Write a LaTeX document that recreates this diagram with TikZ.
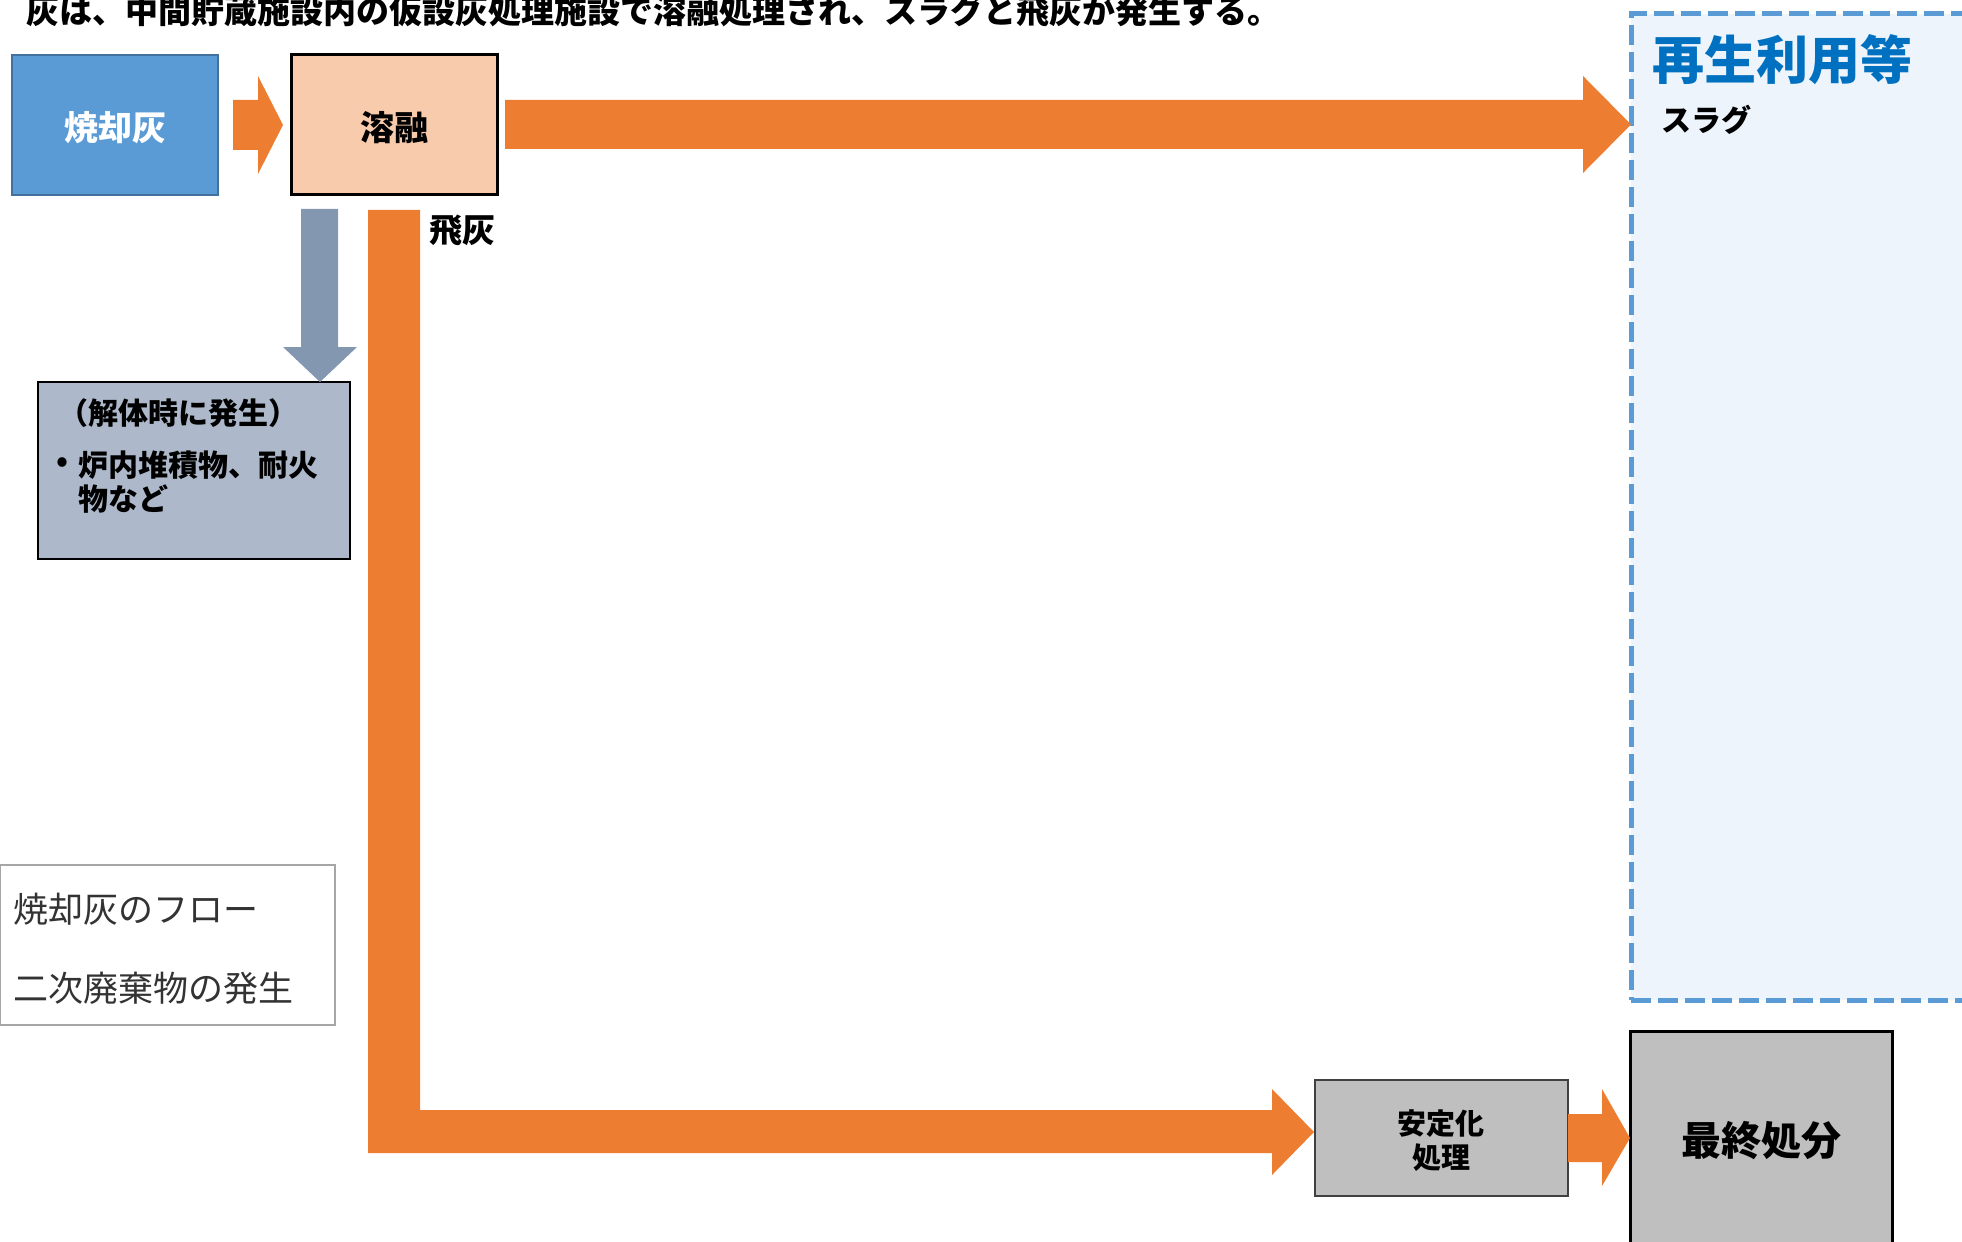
\documentclass[tikz,border=0pt]{standalone}
\usepackage{fontspec}
\setmainfont{Noto Sans CJK JP}
\definecolor{aorange}{HTML}{ED7D31}
\definecolor{ashfill}{HTML}{5B9BD5}
\definecolor{ashdraw}{HTML}{41719C}
\definecolor{meltfill}{HTML}{F8CBAD}
\definecolor{agray}{HTML}{8497B0}
\definecolor{dismfill}{HTML}{ADB9CA}
\definecolor{gboxfill}{HTML}{BFBFBF}
\definecolor{reusefill}{HTML}{EDF4FB}
\definecolor{dashblue}{HTML}{5B9BD5}
\definecolor{reusetext}{HTML}{0070C0}
\definecolor{legtext}{HTML}{333333}
\definecolor{legdraw}{HTML}{A6A6A6}
\begin{document}
\begin{tikzpicture}[x=0.5pt,y=-0.5pt,
  every node/.style={inner sep=0pt, outer sep=0pt},
  blockarrow/.style={fill=aorange, draw=none},
  grayarrow/.style={fill=agray, draw=none},
  boldtext/.style={font=\bfseries\fontsize{#1}{#1}\selectfont},
]
\useasboundingbox (0,0) rectangle (1962,1241);

% title
\node[anchor=west, boldtext=16.5pt] (title) at (26,11)
  {灰は、中間貯蔵施設内の仮設灰処理施設で溶融処理され、スラグと飛灰が発生する。};

% reuse region
\node[draw=dashblue, fill=reusefill, line width=2.5pt, dash pattern=on 10pt off 3.5pt,
      minimum width=176pt, minimum height=493pt, anchor=north west] (reuse) at (1631,14) {};
\node[boldtext=26pt, text=reusetext] (reusetitle) at (1782,60) {再生利用等};
\node[boldtext=15pt] (slag) at (1706,120) {スラグ};

% boxes
\node[draw=ashdraw, fill=ashfill, line width=1pt, minimum width=103pt, minimum height=70pt] (ash) at (115,125) {};
\node[text=white, boldtext=17pt] (ashtext) at (115,128) {焼却灰};
\node[draw=black, fill=meltfill, line width=1.5pt, minimum width=103pt, minimum height=70pt] (melt) at (394,125) {};
\node[boldtext=17pt] (melttext) at (394,128) {溶融};

\node[draw=black, fill=dismfill, line width=1.2pt, minimum width=156pt, minimum height=88.5pt,
      anchor=north west] (dism) at (38,382) {};
\node[anchor=west, boldtext=15pt] (dism1) at (58,413) {（解体時に発生）};
\node[boldtext=15pt] (bullet) at (62,465) {•};
\node[anchor=west, boldtext=15pt] (dism2) at (78,465) {炉内堆積物、耐火};
\node[anchor=west, boldtext=15pt] (dism3) at (78,499) {物など};

\node[draw=legdraw, fill=white, line width=1pt, minimum width=167.5pt, minimum height=80pt,
      anchor=north west] (legend) at (0,865) {};
\node[anchor=west, text=legtext, font=\fontsize{17.5pt}{17.5pt}\selectfont] (leg1) at (13,909) {焼却灰のフロー};
\node[anchor=west, text=legtext, font=\fontsize{17.5pt}{17.5pt}\selectfont] (leg2) at (13,988) {二次廃棄物の発生};

\node[draw=black!75, fill=gboxfill, line width=0.8pt, minimum width=126.5pt, minimum height=58pt,
      anchor=north west] (stab) at (1315,1080) {};
\node[align=center, font=\bfseries\fontsize{14.5pt}{17pt}\selectfont] (stabtext) at (1441,1141) {安定化\\処理};

\node[draw=black, fill=gboxfill, line width=1.5pt, minimum width=131pt, minimum height=120pt,
      anchor=north west] (final) at (1630,1031) {};
\node[boldtext=20pt] (finaltext) at (1761,1141) {最終処分};

\node[boldtext=16.5pt] (flyash) at (462,231) {飛灰};

% arrows
\fill[blockarrow] (233,100) -- (258,100) -- (258,76) -- (283,125) -- (258,174) -- (258,150) -- (233,150) -- cycle;
\fill[blockarrow] (505,100) -- (1583,100) -- (1583,76) -- (1631,124.5) -- (1583,173) -- (1583,149) -- (505,149) -- cycle;
\fill[grayarrow] (301,209) -- (338,209) -- (338,347) -- (357,347) -- (320,382) -- (283,347) -- (301,347) -- cycle;
\fill[blockarrow] (368,210) -- (420,210) -- (420,1110) -- (1272,1110) -- (1272,1089) -- (1314,1132)
   -- (1272,1175) -- (1272,1153) -- (368,1153) -- cycle;
\fill[blockarrow] (1568,1114) -- (1602,1114) -- (1602,1089) -- (1630,1138) -- (1602,1186) -- (1602,1162) -- (1568,1162) -- cycle;
\end{tikzpicture}
\end{document}
